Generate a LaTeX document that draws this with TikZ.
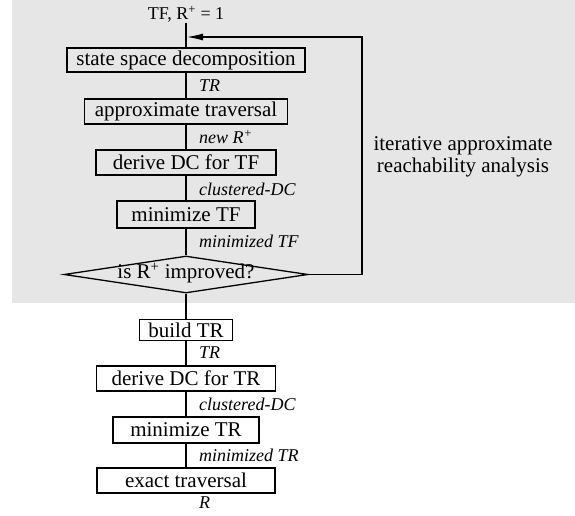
\documentclass[tikz,border=0pt]{standalone}
\usepackage{fontspec}
\setmainfont{Liberation Serif}
\usetikzlibrary{shapes.geometric,arrows.meta}
\definecolor{bg}{HTML}{E6E6E6}
\begin{document}
\begin{tikzpicture}[x=1pt,y=-1pt,
  boxnode/.style={draw, line width=1.3pt, inner sep=0pt, font=\fontsize{21}{24}\selectfont, anchor=center},
  lbl/.style={font=\fontsize{18}{20}\selectfont\itshape, anchor=west, inner sep=0pt},
  conn/.style={line width=1.2pt}]
\useasboundingbox (0,0) rectangle (575,516);
\fill[bg] (12,0) rectangle (575,303);
\node[font=\fontsize{18}{20}\selectfont, inner sep=1pt] (start) at (186,14) {TF, R\textsuperscript{+} = 1};
\node[boxnode, minimum width=238pt, minimum height=24pt] (b1) at (186,60) {state space decomposition};
\node[boxnode, minimum width=203pt, minimum height=25pt] (b2) at (186,111.5) {approximate traversal};
\node[boxnode, minimum width=180pt, minimum height=25pt] (b3) at (186,162.5) {derive DC for TF};
\node[boxnode, minimum width=138pt, minimum height=27pt] (b4) at (186,214.5) {minimize TF};
\node[draw, diamond, line width=1.3pt, minimum width=244pt, minimum height=37pt, inner sep=0pt] (d) at (186,274.5) {};
\node[font=\fontsize{21}{24}\selectfont, inner sep=0pt] (dt) at (186,273) {is R\textsuperscript{+} improved?};
\node[boxnode, minimum width=93pt, minimum height=21pt] (b5) at (186,330) {build TR};
\node[boxnode, minimum width=179pt, minimum height=25pt] (b6) at (186,378.5) {derive DC for TR};
\node[boxnode, minimum width=146pt, minimum height=26pt] (b7) at (186,430) {minimize TR};
\node[boxnode, minimum width=178pt, minimum height=25pt] (b8) at (186,480.5) {exact traversal};
\node[font=\fontsize{21}{22}\selectfont, align=center, inner sep=0pt] (iter) at (463,157) {iterative approximate\\reachability analysis};
\coordinate (fbtop) at (362,37);
\coordinate (join) at (187,37);
\draw[conn] (start) -- (b1);
\draw[conn] (b1) -- (b2);
\draw[conn] (b2) -- (b3);
\draw[conn] (b3) -- (b4);
\draw[conn] (b4) -- (d);
\draw[conn] (d) -- (b5);
\draw[conn] (b5) -- (b6);
\draw[conn] (b6) -- (b7);
\draw[conn] (b7) -- (b8);
\draw[conn, -{Latex[length=16pt,width=7pt]}] (d.east) -| (fbtop) -- (join);
\node[lbl] (l1) at (199,86) {TR};
\node[lbl] (l2) at (199,137) {new R\textsuperscript{+}};
\node[lbl] (l3) at (199,189) {clustered-DC};
\node[lbl] (l4) at (199,241) {minimized TF};
\node[lbl] (l5) at (199,353) {TR};
\node[lbl] (l6) at (199,404) {clustered-DC};
\node[lbl] (l7) at (199,455) {minimized TR};
\node[lbl] (l8) at (199,503) {R};
\end{tikzpicture}
\end{document}
